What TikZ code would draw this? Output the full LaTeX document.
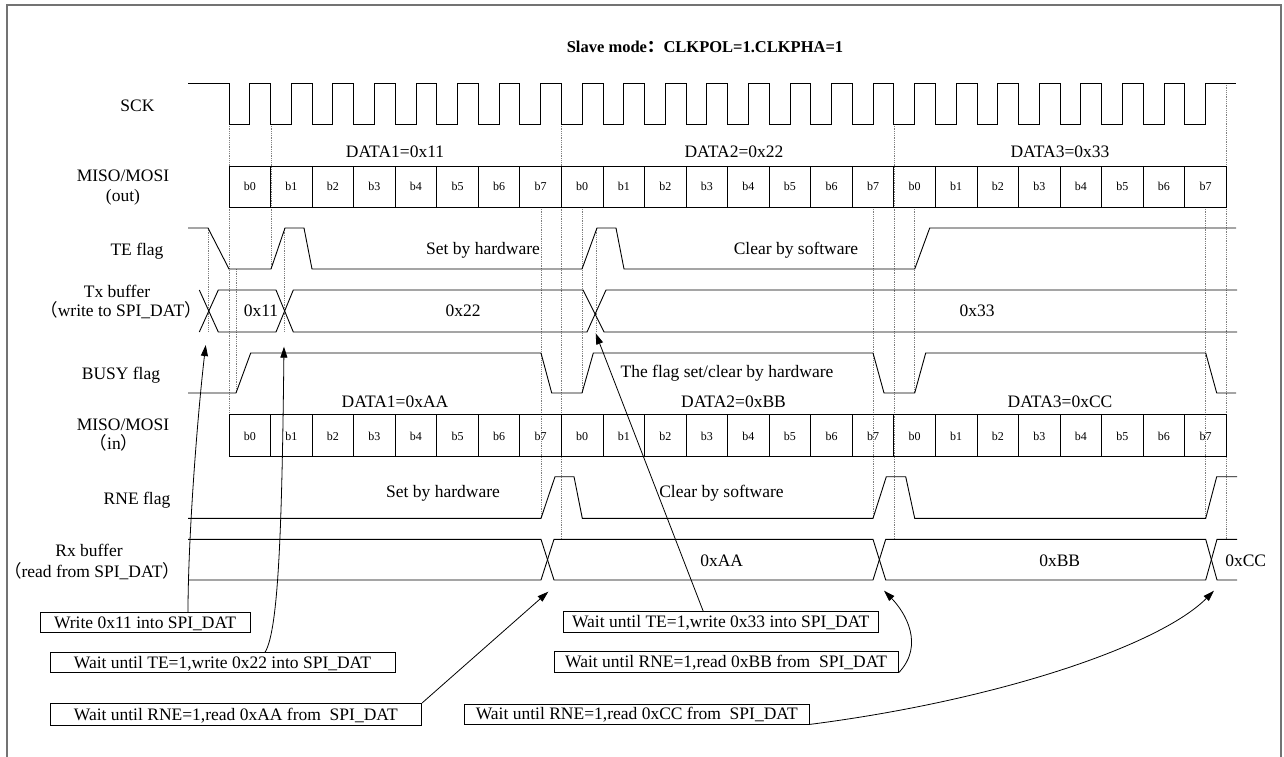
\documentclass[tikz,border=0pt]{standalone}
\usepackage{fontspec}
\setmainfont{Liberation Serif}
\newfontfamily\cjk{Noto Sans CJK SC}
\usetikzlibrary{arrows.meta}
\newcommand\zlp{{\cjk （}}
\newcommand\zrp{{\cjk ）}}
\newcommand\zcolon{{\cjk ：}}
\begin{document}
\begin{tikzpicture}[x=1pt,y=-1pt,
  sig/.style={line width=0.9pt, line join=miter},
  grid/.style={black!50, densely dotted, line width=0.8pt},
  lab/.style={inner sep=0pt, anchor=base, font=\fontsize{17.5}{20}\selectfont},
  bit/.style={inner sep=0pt, anchor=base, font=\fontsize{12}{14}\selectfont},
  note/.style={draw, line width=0.8pt, inner sep=0pt, text height=11.6pt, text depth=0pt, font=\fontsize{17.5}{20}\selectfont},
  arr/.style={-{Triangle[length=11pt,width=7pt]}, line width=0.8pt}]
\useasboundingbox (0,0) rectangle (1284,757);
% frame
\draw[black!55, line width=1.5pt] (7,757) -- (7,5) -- (1281,5) -- (1281,757);

% title
\node[inner sep=0pt, anchor=base, font=\bfseries\fontsize{16.5}{20}\selectfont] (title) at (705,52.3) {Slave mode\zcolon CLKPOL=1.CLKPHA=1};

% row labels
\node[lab] (lsck) at (137.5,111.7) {SCK};
\node[lab] (lmo1) at (123,181.7) {MISO/MOSI};
\node[lab] (lmo2) at (123,201.7) {(out)};
\node[lab] (lte) at (137,255) {TE flag};
\node[lab] (ltx1) at (117,297.3) {Tx buffer};
\node[lab] (ltx2) at (121,316) {\zlp write to SPI\_DAT\zrp};
\node[lab] (lbusy) at (121,379.3) {BUSY flag};
\node[lab] (lmi1) at (123,430.7) {MISO/MOSI};
\node[lab] (lmi2) at (114,449.3) {\zlp in\zrp};
\node[lab] (lrne) at (137,504.3) {RNE flag};
\node[lab] (lrx1) at (89,556) {Rx buffer};
\node[lab] (lrx2) at (92,577.3) {\zlp read from SPI\_DAT\zrp};

% dotted guide lines
\foreach \x/\ya/\yb in {229/124/414.3, 271/124/269, 208.7/228/332, 236/269/393,
  284.5/228/332, 541/207/518, 561.7/124/539.3, 582.3/207/393, 596.5/228/332,
  873/207/518, 894/124/539.3, 914.7/207/393, 1205.7/207/518, 1226.3/83/539.3}
  \draw[grid] (\x,\ya) -- (\x,\yb);

% SCK
\draw[sig] (188,83) foreach \k in {0,...,23} {
  -- ({229+\k*41.554},83) -- ({229+\k*41.554},124)
  -- ({229+(\k+0.5)*41.554},124) -- ({229+(\k+0.5)*41.554},83) } -- (1236,83);

% MISO/MOSI cells
\foreach \k in {0,...,23} {
  \pgfmathsetmacro\xa{229+\k*41.554}
  \pgfmathsetmacro\xb{229+(\k+1)*41.554}
  \pgfmathtruncatemacro\bi{mod(\k,8)}
  \draw[sig] (\xa,166) rectangle (\xb,207);
  \node[bit] (bo\k) at ({(\xa+\xb)/2},190.7) {b\bi};
  \draw[sig] (\xa,414.3) rectangle (\xb,456);
  \node[bit] (bi\k) at ({(\xa+\xb)/2},440) {b\bi};
}
\node[lab] (d1) at (395,157.3) {DATA1=0x11};
\node[lab] (d2) at (734,157.3) {DATA2=0x22};
\node[lab] (d3) at (1060,157.3) {DATA3=0x33};
\node[lab] (e1) at (395,407.7) {DATA1=0xAA};
\node[lab] (e2) at (733.5,407.7) {DATA2=0xBB};
\node[lab] (e3) at (1060,407.7) {DATA3=0xCC};

% TE flag
\draw[sig] (188,228) -- (208,228) -- (229,269) -- (271,269) -- (285,228) -- (304,228)
  -- (312,269) -- (582,269) -- (597,228) -- (616,228) -- (624,269) -- (914.7,269)
  -- (929.7,228) -- (1236,228);
\node[lab] (te1) at (483,254.3) {Set by hardware};
\node[lab] (te2) at (796,254.3) {Clear by software};

% Tx buffer
\draw[sig] (199.3,290) -- (218.3,332) -- (276,332) -- (293.3,290) -- (583,290) -- (604,332) -- (1237,332);
\draw[sig] (199.3,332) -- (218.3,290) -- (276,290) -- (293.3,332) -- (587,332) -- (606,290) -- (1237,290);
\node[lab] (tx1) at (261,316) {0x11};
\node[lab] (tx2) at (463,316) {0x22};
\node[lab] (tx3) at (977,316) {0x33};

% BUSY flag
\draw[sig] (188,393) -- (236,393) -- (250.7,353) -- (541,353) -- (551.7,393) -- (582,393)
  -- (593.3,353) -- (873,353) -- (884,393) -- (914.7,393) -- (925.7,353) -- (1205.7,353)
  -- (1216.7,393) -- (1236,393);
\node[lab] (busy) at (727,377.7) {The flag set/clear by hardware};

% RNE flag
\draw[sig] (188,518.3) -- (541,518.3) -- (555,476.7) -- (574,476.7) -- (582.3,518.3)
  -- (873,518.3) -- (886.3,476.7) -- (905.7,476.7) -- (914.7,518.3) -- (1205.7,518.3)
  -- (1216.7,476.7) -- (1237,476.7);
\node[lab] (rn1) at (443,497.3) {Set by hardware};
\node[lab] (rn2) at (721.5,497.3) {Clear by software};

% Rx buffer
\draw[sig] (188,539.3) -- (541,539.3) -- (554,580) -- (873,580) -- (885.7,539.3) -- (1205.7,539.3) -- (1217,580) -- (1237,580);
\draw[sig] (188,580) -- (541,580) -- (554,539.3) -- (873,539.3) -- (885.7,580) -- (1205.7,580) -- (1217,539.3) -- (1237,539.3);
\node[lab] (rx1) at (721.7,566) {0xAA};
\node[lab] (rx2) at (1059.7,566) {0xBB};
\node[lab] (rx3) at (1245.7,566) {0xCC};

% note boxes
\node[note, minimum width=210pt, minimum height=19.6pt] (n1) at (145,622.5) {Write 0x11 into SPI\_DAT};
\node[note, minimum width=345pt, minimum height=19.6pt] (n2) at (222.5,662.5) {Wait until TE=1,write 0x22 into SPI\_DAT};
\node[note, minimum width=371.7pt, minimum height=21.7pt] (n3) at (235.85,714.2) {Wait until RNE=1,read 0xAA from\ \ SPI\_DAT};
\node[note, minimum width=314.7pt, minimum height=20.6pt] (n4) at (720.65,622) {Wait until TE=1,write 0x33 into SPI\_DAT};
\node[note, minimum width=344.3pt, minimum height=20.6pt] (n5) at (726.15,662) {Wait until RNE=1,read 0xBB from\ \ SPI\_DAT};
\node[note, minimum width=345pt, minimum height=19.7pt] (n6) at (636.8,714.15) {Wait until RNE=1,read 0xCC from\ \ SPI\_DAT};

% arrow targets
\coordinate (t1) at (205.7,345);
\coordinate (t2) at (284,346.7);
\coordinate (t3) at (548.3,591.7);
\coordinate (t4) at (595.7,333.3);
\coordinate (t5) at (884,590.7);
\coordinate (t6) at (1214,590.7);

\draw[arr] ([xshift=43pt]n1.north) .. controls (188,540) and (197,420) .. (t1);
\draw[arr] ([xshift=42.5pt]n2.north) .. controls (279,630) and (282,520) .. (t2);
\draw[arr] (n3.north east) -- (t3);
\draw[arr] ([xshift=-17.4pt]n4.north) -- (t4);
\draw[arr] (n5.south east) .. controls (925,645) and (905,612) .. (t5);
\draw[arr] (n6.south east) .. controls (1000,700) and (1160,645) .. (t6);
\end{tikzpicture}
\end{document}
